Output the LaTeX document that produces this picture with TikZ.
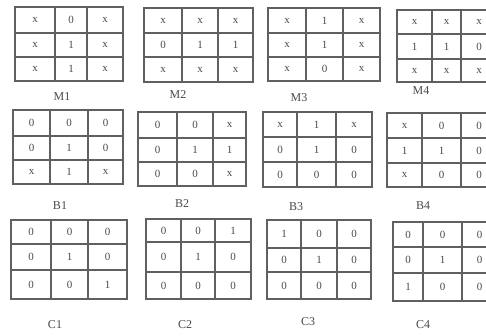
\documentclass[tikz,border=0pt]{standalone}
\usepackage{fontspec}
\setmainfont{Liberation Serif}
\definecolor{gline}{HTML}{606060}
\definecolor{gtext}{HTML}{4A4A4A}
\tikzset{
  gridline/.style={draw=gline, line width=1.4pt},
  cell/.style={inner sep=0pt, text=gtext, font=\fontsize{11}{11}\selectfont},
  gridlabel/.style={inner sep=0pt, text=gtext, font=\fontsize{12}{12}\selectfont},
}
% #1 name, #2 x0/x1/x2/x3, #3 y0/y1/y2/y3, #4 entries a/b/c,d/e/f,g/h/i
\newcommand\mygrid[4]{%
  \foreach \xa/\xb/\xc/\xd in {#2}{%
    \foreach \ya/\yb/\yc/\yd in {#3}{%
      \draw[gridline] (\xa,\ya) rectangle (\xd,\yd);
      \draw[gridline] (\xb,\ya) -- (\xb,\yd) (\xc,\ya) -- (\xc,\yd);
      \draw[gridline] (\xa,\yb) -- (\xd,\yb) (\xa,\yc) -- (\xd,\yc);
      \coordinate (#1-k1) at ({(\xa+\xb)/2},0);
      \coordinate (#1-k2) at ({(\xb+\xc)/2},0);
      \coordinate (#1-k3) at ({(\xc+\xd)/2},0);
      \coordinate (#1-r1) at (0,{(\ya+\yb)/2});
      \coordinate (#1-r2) at (0,{(\yb+\yc)/2});
      \coordinate (#1-r3) at (0,{(\yc+\yd)/2});
    }%
  }%
  \foreach \ea/\eb/\ec [count=\r] in {#4}{%
    \node[cell] (#1-\r-1) at (#1-k1 |- #1-r\r) {\ea};
    \node[cell] (#1-\r-2) at (#1-k2 |- #1-r\r) {\eb};
    \node[cell] (#1-\r-3) at (#1-k3 |- #1-r\r) {\ec};
  }%
}
\begin{document}
\begin{tikzpicture}[x=1pt,y=-1pt]
\useasboundingbox (0,0) rectangle (486,335);
\fill[white] (0,0) rectangle (486,335);
\clip (0,0) rectangle (486,335);
% row M
\mygrid{M1}{15/55/87/123}{7/33/57/81}{x/0/x,x/1/x,x/1/x}
\mygrid{M2}{144/182/218/253}{8/33/57/82}{x/x/x,0/1/1,x/x/x}
\mygrid{M3}{268/306/343/380}{8/33/57/81}{x/1/x,x/1/x,x/0/x}
\mygrid{M4}{397/432/461/497}{10/34/59/82}{x/x/x,1/1/0,x/x/x}
\node[gridlabel] (lM1) at (62,97) {M1};
\node[gridlabel] (lM2) at (178,95) {M2};
\node[gridlabel] (lM3) at (299,98) {M3};
\node[gridlabel] (lM4) at (421,91) {M4};
% row B
\mygrid{B1}{13/50/88/123}{110/136/160/184}{0/0/0,0/1/0,x/1/x}
\mygrid{B2}{138/177/213/246}{112/138/162/186}{0/0/x,0/1/1,0/0/x}
\mygrid{B3}{263/297/336/372}{112/137/162/187}{x/1/x,0/1/0,0/0/0}
\mygrid{B4}{387/422/461/497}{113/138/163/187}{x/0/0,1/1/0,x/0/0}
\node[gridlabel] (lB1) at (60,206) {B1};
\node[gridlabel] (lB2) at (182,204) {B2};
\node[gridlabel] (lB3) at (296,207) {B3};
\node[gridlabel] (lB4) at (423,206) {B4};
% row C
\mygrid{C1}{11/51/88/127}{220/244/270/299}{0/0/0,0/1/0,0/0/1}
\mygrid{C2}{146/181/215/251}{219/242/272/299}{0/0/1,0/1/0,0/0/0}
\mygrid{C3}{267/301/337/371}{220/248/272/299}{1/0/0,0/1/0,0/0/0}
\mygrid{C4}{393/423/462/497}{222/247/273/301}{0/0/0,0/1/0,1/0/0}
\node[gridlabel] (lC1) at (55,325) {C1};
\node[gridlabel] (lC2) at (185,325) {C2};
\node[gridlabel] (lC3) at (308,322) {C3};
\node[gridlabel] (lC4) at (423,325) {C4};
\end{tikzpicture}
\end{document}
